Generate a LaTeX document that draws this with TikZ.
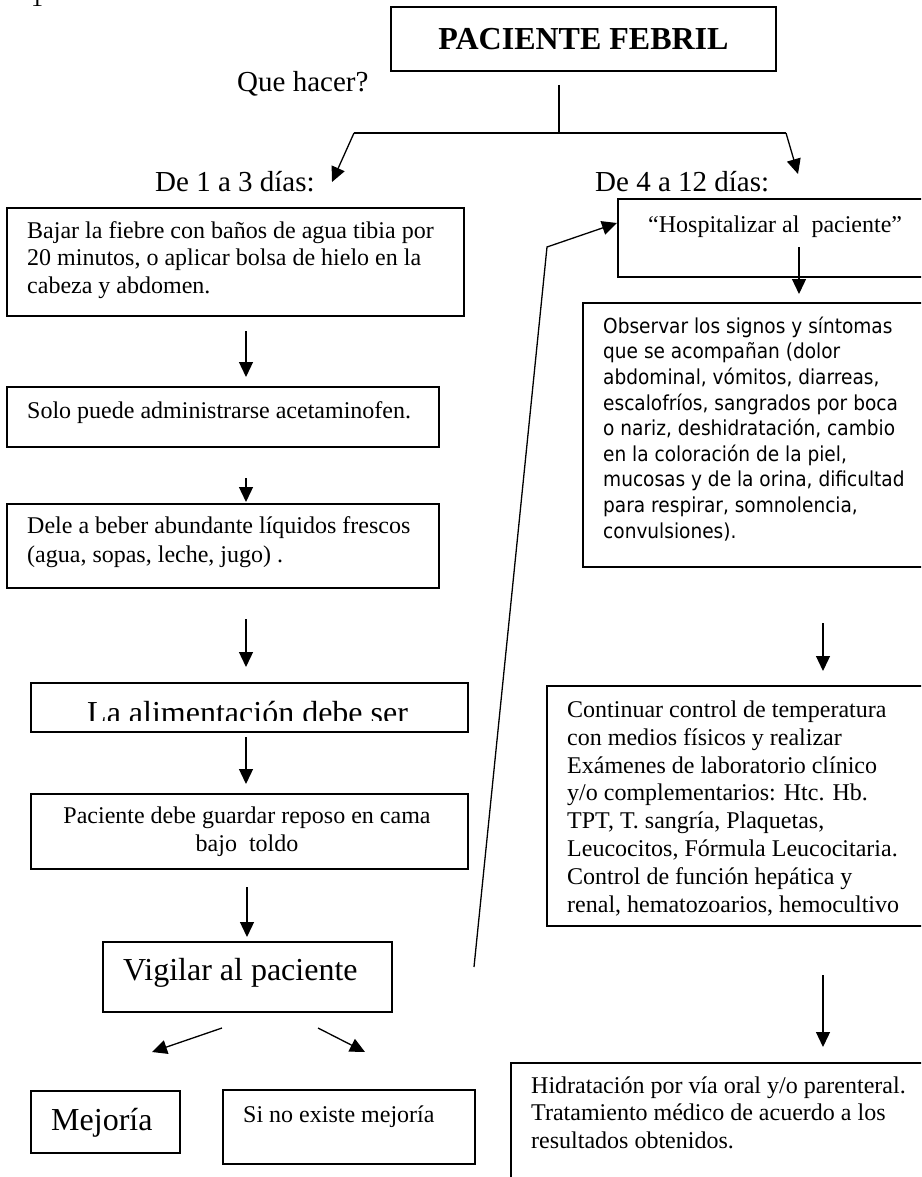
\documentclass[tikz,border=0pt]{standalone}
\usepackage{fontspec}
\setmainfont{Liberation Serif}
\newfontfamily\tahomalike{DejaVu Sans}[FakeStretch=0.9]
\usetikzlibrary{arrows.meta}
\newcommand\pxsize[2]{\fontsize{#1}{#2}\selectfont}
\begin{document}
\begin{tikzpicture}[x=1pt,y=-1pt,
  box/.style={draw, line width=1.6pt, rectangle, inner sep=0pt, anchor=north west},
  txt/.style={inner sep=0pt, anchor=base west, align=left},
  conn/.style={line width=1.3pt},
  arr/.style={line width=1.3pt, -{Triangle[length=15pt,width=14pt]}}]
\useasboundingbox (0,0) rectangle (921,1177);
\clip (0,0) rectangle (921,1177);

% page number remnant
\node[inner sep=0pt, anchor=base, font=\pxsize{24}{28}] (pg) at (37,7) {1};

% title
\node[draw, line width=1.6pt, minimum width=385pt, minimum height=64pt, inner sep=0pt,
      font=\pxsize{32}{36}\bfseries] (top) at (583.5,39) {PACIENTE FEBRIL};
\node[txt, font=\pxsize{29}{33}] (q) at (237,92) {Que hacer?};
\node[txt, font=\pxsize{29}{33}] (d1) at (155,192) {De 1 a 3 días:};
\node[txt, font=\pxsize{29}{33}] (d2) at (595,192) {De 4 a 12 días:};

% left column boxes (multi-line texts are placed by the baseline of their last line)
\node[box, minimum width=457pt, minimum height=108pt] (b1) at (6,207) {};
\node[txt, font=\pxsize{24}{27.5}] (t1) at (27,293)
  {Bajar la fiebre con baños de agua tibia por\\20 minutos, o aplicar bolsa de hielo en la\\cabeza y abdomen.};
\node[box, minimum width=432pt, minimum height=60pt] (b2) at (6,386) {};
\node[txt, font=\pxsize{24}{27.5}] (t2) at (27,418) {Solo puede administrarse acetaminofen.};
\node[box, minimum width=432pt, minimum height=84pt] (b3) at (6,503) {};
\node[txt, font=\pxsize{24}{29}] (t3) at (27,562)
  {Dele a beber abundante líquidos frescos\\(agua, sopas, leche, jugo) .};
\node[box, minimum width=437pt, minimum height=49pt] (b4) at (30,682) {};
\begin{scope}
  \clip (30,682) rectangle (467,720);
  \node[txt, font=\pxsize{32}{36}] (t4) at (87,723) {La alimentación debe ser};
\end{scope}
\node[box, minimum width=437pt, minimum height=75pt] (b5) at (30,793) {};
\node[inner sep=0pt, anchor=base, align=center, font=\pxsize{24}{28}] (t5) at (247,851)
  {Paciente debe guardar reposo en cama\\bajo\ \ toldo};
\node[box, minimum width=289pt, minimum height=70pt] (b6) at (102,941) {};
\node[txt, font=\pxsize{32}{36}] (t6) at (123,980) {Vigilar al paciente};
\node[box, minimum width=149pt, minimum height=62pt] (b7) at (30,1090) {};
\node[txt, font=\pxsize{32}{36}] (t7) at (51,1130) {Mejoría};
\node[box, minimum width=252pt, minimum height=74pt] (b8) at (222,1089) {};
\node[txt, font=\pxsize{24}{28}] (t8) at (243,1122) {Si no existe mejoría};

% right column boxes
\node[box, minimum width=330pt, minimum height=78pt] (h1) at (617,198) {};
\node[txt, font=\pxsize{24}{28}] (s1) at (648,232) {“Hospitalizar al\ \ paciente”};
\node[box, minimum width=360pt, minimum height=264pt] (h2) at (582,302) {};
\node[txt, font=\tahomalike\pxsize{20.6}{25.6}] (s2) at (603,538)
  {Observar los signos y síntomas\\que se acompañan (dolor\\abdominal, vómitos, diarreas,\\escalofríos, sangrados por boca\\o nariz, deshidratación, cambio\\en la coloración de la piel,\\mucosas y de la orina, dificultad\\para respirar, somnolencia,\\convulsiones).};
\node[box, minimum width=400pt, minimum height=240pt] (h3) at (546,685) {};
\node[txt, font=\pxsize{24}{27.8}] (s3) at (567,912)
  {Continuar control de temperatura\\con medios físicos y realizar\\Exámenes de laboratorio clínico\\y/o complementarios: Htc. Hb.\\TPT, T. sangría, Plaquetas,\\Leucocitos, Fórmula Leucocitaria.\\Control de función hepática y\\renal, hematozoarios, hemocultivo};
\node[box, minimum width=430pt, minimum height=160pt] (h4) at (510,1062) {};
\node[txt, font=\pxsize{24}{27.5}] (s4) at (531,1148)
  {Hidratación por vía oral y/o parenteral.\\Tratamiento médico de acuerdo a los\\resultados obtenidos.};

% connector end points
\coordinate (f0) at (559,85);
\coordinate (f1) at (559,133);
\coordinate (fl) at (354,133);
\coordinate (fr) at (786,133);
\coordinate (fla) at (332,182);
\coordinate (fra) at (798,174);
\coordinate (a1s) at (246,331); \coordinate (a1e) at (246,377);
\coordinate (a2s) at (246,478); \coordinate (a2e) at (246,502);
\coordinate (a3s) at (246,619); \coordinate (a3e) at (246,667);
\coordinate (a4s) at (246,737); \coordinate (a4e) at (246,784);
\coordinate (a5s) at (247,887); \coordinate (a5e) at (247,937);
\coordinate (vls) at (222,1028); \coordinate (vle) at (152,1052);
\coordinate (vrs) at (318,1028); \coordinate (vre) at (365,1052);
\coordinate (r1s) at (799,247); \coordinate (r1e) at (799,294);
\coordinate (r2s) at (823,623); \coordinate (r2e) at (823,671);
\coordinate (r3s) at (823,975); \coordinate (r3e) at (823,1047);
\coordinate (ls) at (474,967); \coordinate (lm) at (547,247); \coordinate (le) at (617,223);

% connectors
\draw[conn] (f0) -- (f1);
\draw[conn] (fl) -- (fr);
\draw[arr] (fl) -- (fla);
\draw[arr] (fr) -- (fra);
\draw[arr] (a1s) -- (a1e);
\draw[arr] (a2s) -- (a2e);
\draw[arr] (a3s) -- (a3e);
\draw[arr] (a4s) -- (a4e);
\draw[arr] (a5s) -- (a5e);
\draw[arr] (vls) -- (vle);
\draw[arr] (vrs) -- (vre);
\draw[arr] (r1s) -- (r1e);
\draw[arr] (r2s) -- (r2e);
\draw[arr] (r3s) -- (r3e);
\draw[arr] (ls) -- (lm) -- (le);
\end{tikzpicture}
\end{document}
